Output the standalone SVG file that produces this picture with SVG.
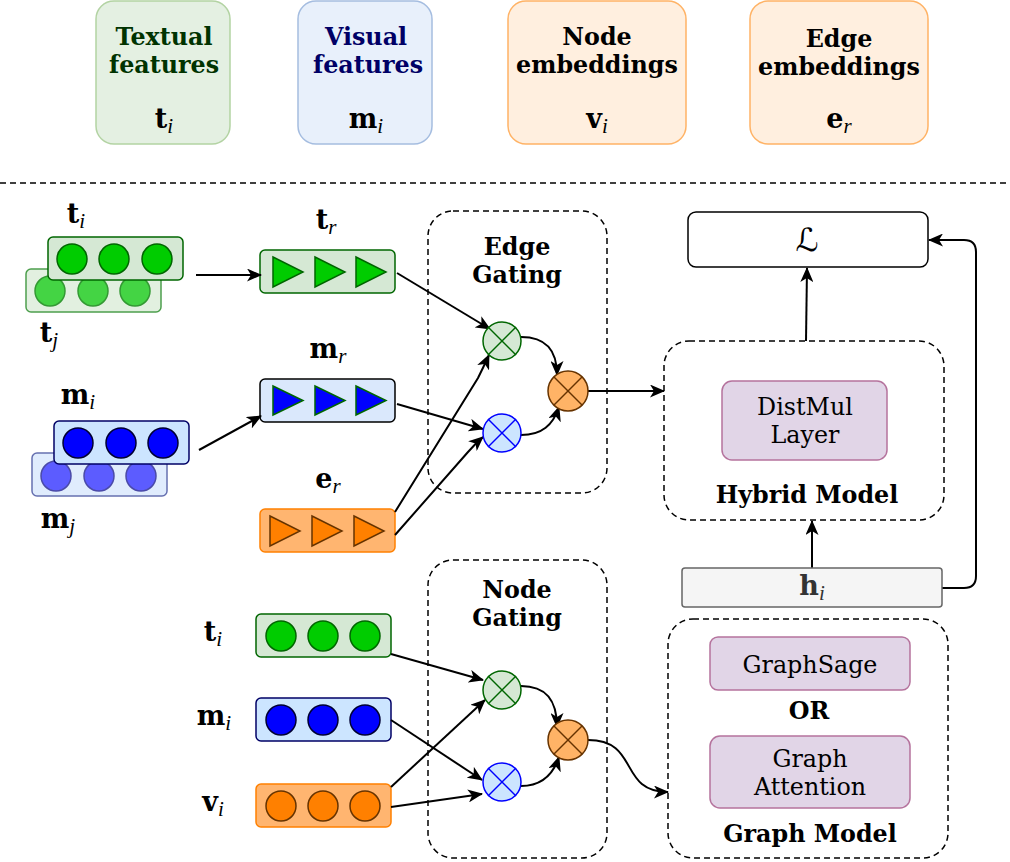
<svg xmlns="http://www.w3.org/2000/svg" width="1010" height="862" viewBox="0 0 1010 862">
<style>
.bt{font-family:"DejaVu Serif",serif;font-weight:bold;font-size:23.8px;text-anchor:middle}
.rt{font-family:"DejaVu Serif",serif;font-size:23.8px;text-anchor:middle;fill:#000}
.mt{font-family:"DejaVu Serif",serif;font-weight:bold;font-size:27px;text-anchor:middle}
.sub{font-family:"Liberation Serif",serif;font-style:italic;font-weight:normal;font-size:21px}
.ln{fill:none;stroke:#000;stroke-width:2}
.dash{fill:none;stroke:#000;stroke-width:1.5;stroke-dasharray:6 4}
.gbox{fill:#d5e8d4;stroke:#006600;stroke-width:1.5}
.gc{fill:#00cc00;stroke:#006600;stroke-width:1.5}
.gbox2{fill:#e2f0e0;stroke:#4d9f4d;stroke-width:1.5}
.gc2{fill:#44d444;stroke:#339933;stroke-width:1.5}
.bbox{fill:#cce5ff;stroke:#000066;stroke-width:1.5}
.bc{fill:#0000ff;stroke:#000033;stroke-width:1.5}
.bbox2{fill:#e0ecfd;stroke:#6670b0;stroke-width:1.5}
.bc2{fill:#5c5cff;stroke:#4a4aa8;stroke-width:1.5}
.obox{fill:#ffb570;stroke:#ff8000;stroke-width:1.5}
.oc{fill:#ff8000;stroke:#663300;stroke-width:1.5}
.pbox{fill:#e1d5e7;stroke:#b5739d;stroke-width:1.5}
</style>
<defs>
<marker id="ah" viewBox="0 0 15 13" refX="14" refY="6.5" markerWidth="15" markerHeight="13" markerUnits="userSpaceOnUse" orient="auto">
<path d="M0,0 L15,6.5 L0,13 L4,6.5 Z" fill="#000"/>
</marker>
<g id="xg"><line x1="-14" y1="-14" x2="14" y2="14"/><line x1="-14" y1="14" x2="14" y2="-14"/></g>
</defs>
<rect width="1010" height="862" fill="#fff"/>

<!-- legend -->
<g id="legend-textual">
<rect x="96" y="1" width="134" height="143" rx="18" fill="#e4f0e2" stroke="#b3d3a3" stroke-width="1.5"/>
<text class="bt" x="164" y="45" fill="#003300">Textual</text>
<text class="bt" x="164" y="73" fill="#003300">features</text>
<text class="mt" x="164" y="128" fill="#000">t<tspan class="sub" dy="5">i</tspan></text>
</g>
<g id="legend-visual">
<rect x="298" y="1" width="134" height="143" rx="18" fill="#e8f0fb" stroke="#a5bde0" stroke-width="1.5"/>
<text class="bt" x="366" y="45" fill="#000066">Visual</text>
<text class="bt" x="368" y="73" fill="#000066">features</text>
<text class="mt" x="366" y="128" fill="#000">m<tspan class="sub" dy="5">i</tspan></text>
</g>
<g id="legend-node">
<rect x="508" y="1" width="178" height="143" rx="18" fill="#ffefdf" stroke="#ffb366" stroke-width="1.5"/>
<text class="bt" x="597" y="45" fill="#000">Node</text>
<text class="bt" x="597" y="73" fill="#000">embeddings</text>
<text class="mt" x="597" y="128" fill="#000">v<tspan class="sub" dy="5">i</tspan></text>
</g>
<g id="legend-edge">
<rect x="750" y="1" width="178" height="143" rx="18" fill="#ffefdf" stroke="#ffb366" stroke-width="1.5"/>
<text class="bt" x="839" y="47" fill="#000">Edge</text>
<text class="bt" x="839" y="75" fill="#000">embeddings</text>
<text class="mt" x="839" y="128" fill="#000">e<tspan class="sub" dy="5">r</tspan></text>
</g>
<line x1="0" y1="183" x2="1010" y2="183" stroke="#000" stroke-width="1.5" stroke-dasharray="6 4"/>

<!-- gating groups -->
<g id="edge-gating-box">
<rect class="dash" x="428" y="211" width="179" height="282" rx="25"/>
<text class="bt" x="517" y="255" fill="#000">Edge</text>
<text class="bt" x="517" y="283" fill="#000">Gating</text>
</g>
<g id="node-gating-box">
<rect class="dash" x="428" y="560" width="179" height="298" rx="25"/>
<text class="bt" x="517" y="598" fill="#000">Node</text>
<text class="bt" x="517" y="626" fill="#000">Gating</text>
</g>

<!-- left inputs -->
<g id="tj">
<rect class="gbox2" x="26" y="269" width="135" height="43" rx="5"/>
<circle class="gc2" cx="50" cy="291" r="15"/><circle class="gc2" cx="93" cy="291" r="15"/><circle class="gc2" cx="135" cy="291" r="15"/>
<text class="mt" x="49" y="342" fill="#000">t<tspan class="sub" dy="5">j</tspan></text>
</g>
<g id="ti">
<rect class="gbox" x="48" y="237" width="135" height="43" rx="5"/>
<circle class="gc" cx="72" cy="259" r="15"/><circle class="gc" cx="114" cy="259" r="15"/><circle class="gc" cx="157" cy="259" r="15"/>
<text class="mt" x="76" y="223" fill="#000">t<tspan class="sub" dy="5">i</tspan></text>
</g>
<g id="mj">
<rect class="bbox2" x="32" y="453" width="135" height="43" rx="5"/>
<circle class="bc2" cx="56" cy="476" r="15"/><circle class="bc2" cx="99" cy="476" r="15"/><circle class="bc2" cx="141" cy="476" r="15"/>
<text class="mt" x="58" y="528" fill="#000">m<tspan class="sub" dy="5">j</tspan></text>
</g>
<g id="mi">
<rect class="bbox" x="54" y="421" width="135" height="43" rx="5"/>
<circle class="bc" cx="78" cy="443" r="15"/><circle class="bc" cx="121" cy="443" r="15"/><circle class="bc" cx="163" cy="443" r="15"/>
<text class="mt" x="78" y="404" fill="#000">m<tspan class="sub" dy="5">i</tspan></text>
</g>

<g id="tr">
<rect class="gbox" x="260" y="250" width="135" height="43" rx="5"/>
<path class="gc" d="M273,257 L303,272 L273,287 Z"/><path class="gc" d="M315,257 L345,272 L315,287 Z"/><path class="gc" d="M356,257 L386,272 L356,287 Z"/>
<text class="mt" x="326" y="229" fill="#000">t<tspan class="sub" dy="5">r</tspan></text>
</g>
<g id="mr">
<rect x="260" y="379" width="135" height="43" rx="5" fill="#dae8fc" stroke="#000" stroke-width="1.5"/>
<path d="M273,386 L303,400.5 L273,415 Z" fill="#0000ff" stroke="#006600" stroke-width="1.5"/><path d="M315,386 L345,400.5 L315,415 Z" fill="#0000ff" stroke="#006600" stroke-width="1.5"/><path d="M356,386 L386,400.5 L356,415 Z" fill="#0000ff" stroke="#006600" stroke-width="1.5"/>
<text class="mt" x="328" y="358" fill="#000">m<tspan class="sub" dy="5">r</tspan></text>
</g>
<g id="er">
<rect class="obox" x="260" y="509" width="135" height="43" rx="5"/>
<path class="oc" d="M270,516 L300,531 L270,546 Z"/><path class="oc" d="M312,516 L342,531 L312,546 Z"/><path class="oc" d="M354,516 L384,531 L354,546 Z"/>
<text class="mt" x="328" y="488" fill="#000">e<tspan class="sub" dy="5">r</tspan></text>
</g>

<!-- node gating inputs -->
<g id="ti-node">
<rect class="gbox" x="256" y="614" width="135" height="43" rx="5"/>
<circle class="gc" cx="281" cy="636" r="15"/><circle class="gc" cx="323" cy="636" r="15"/><circle class="gc" cx="365" cy="636" r="15"/>
<text class="mt" x="213" y="641" fill="#000">t<tspan class="sub" dy="5">i</tspan></text>
</g>
<g id="mi-node">
<rect class="bbox" x="256" y="698" width="135" height="43" rx="5"/>
<circle class="bc" cx="281" cy="720" r="15"/><circle class="bc" cx="323" cy="720" r="15"/><circle class="bc" cx="365" cy="720" r="15"/>
<text class="mt" x="214" y="725" fill="#000">m<tspan class="sub" dy="5">i</tspan></text>
</g>
<g id="vi-node">
<rect class="obox" x="256" y="784" width="135" height="43" rx="5"/>
<circle class="oc" cx="281" cy="806" r="15"/><circle class="oc" cx="323" cy="806" r="15"/><circle class="oc" cx="365" cy="806" r="15"/>
<text class="mt" x="213" y="811" fill="#000">v<tspan class="sub" dy="5">i</tspan></text>
</g>

<!-- connectors -->
<g id="connectors" class="ln">
<line x1="196" y1="275" x2="261" y2="275" marker-end="url(#ah)"/>
<line x1="199" y1="450" x2="261" y2="416" marker-end="url(#ah)"/>
<line x1="397" y1="273" x2="490" y2="329" marker-end="url(#ah)"/>
<path d="M395,512 L478,378 Q483,368 489,355" marker-end="url(#ah)"/>
<line x1="397" y1="404" x2="483" y2="429" marker-end="url(#ah)"/>
<path d="M395,535 L468,452 Q475,444 483,437" marker-end="url(#ah)"/>
<path d="M521,337 C546,337 557,350 557,375" marker-end="url(#ah)"/>
<path d="M521,435 C542,435 553,425 559,407" marker-end="url(#ah)"/>
<line x1="588" y1="391" x2="664" y2="391" marker-end="url(#ah)"/>
<line x1="391" y1="654" x2="483" y2="680" marker-end="url(#ah)"/>
<line x1="391" y1="787" x2="485" y2="700" marker-end="url(#ah)"/>
<line x1="391" y1="720" x2="482" y2="780" marker-end="url(#ah)"/>
<line x1="391" y1="807" x2="482" y2="794" marker-end="url(#ah)"/>
<path d="M521,686 C546,686 557,700 557,727" marker-end="url(#ah)"/>
<path d="M521,786 C542,786 553,775 559,757" marker-end="url(#ah)"/>
<path d="M588,740 C640,740 618,792 668,792" marker-end="url(#ah)"/>
<line x1="806" y1="341" x2="807" y2="268" marker-end="url(#ah)"/>
<line x1="812" y1="568" x2="812" y2="521" marker-end="url(#ah)"/>
<path d="M942,588 L964,588 Q976,588 976,576 L976,252 Q976,240 964,240 L929,240" marker-end="url(#ah)"/>
</g>

<!-- gate circles -->
<g id="edge-gate-text" stroke="#006600" stroke-width="1.5">
<circle cx="502" cy="341" r="19" fill="#d5e8d4"/><use href="#xg" x="502" y="341"/>
</g>
<g id="edge-gate-visual" stroke="#0000ff" stroke-width="1.5">
<circle cx="502" cy="433" r="19" fill="#cce5ff"/><use href="#xg" x="502" y="433"/>
</g>
<g id="edge-gate-merge" stroke="#663300" stroke-width="1.5">
<circle cx="568" cy="391" r="20" fill="#ffb366"/><use href="#xg" x="568" y="391"/>
</g>
<g id="node-gate-text" stroke="#006600" stroke-width="1.5">
<circle cx="502" cy="690" r="19" fill="#d5e8d4"/><use href="#xg" x="502" y="690"/>
</g>
<g id="node-gate-visual" stroke="#0000ff" stroke-width="1.5">
<circle cx="502" cy="782" r="19" fill="#cce5ff"/><use href="#xg" x="502" y="782"/>
</g>
<g id="node-gate-merge" stroke="#663300" stroke-width="1.5">
<circle cx="568" cy="740" r="20" fill="#ffb366"/><use href="#xg" x="568" y="740"/>
</g>

<!-- right side -->
<g id="loss">
<rect x="688" y="212" width="240" height="55" rx="8" fill="#fff" stroke="#000" stroke-width="1.5"/>
<text x="807" y="251" font-family="DejaVu Serif, DejaVu Sans, serif" font-style="italic" font-size="32" text-anchor="middle">ℒ</text>
</g>
<g id="hybrid-model">
<rect class="dash" x="664" y="341" width="280" height="179" rx="25"/>
<rect class="pbox" x="722" y="381" width="165" height="79" rx="10"/>
<text class="rt" x="805" y="415">DistMul</text>
<text class="rt" x="805" y="443">Layer</text>
<text class="bt" x="807" y="503" fill="#000">Hybrid Model</text>
</g>
<g id="hi">
<rect x="682" y="568" width="260" height="39" rx="3" fill="#f5f5f5" stroke="#666" stroke-width="1.5"/>
<text class="mt" x="812" y="595" fill="#333">h<tspan class="sub" dy="5">i</tspan></text>
</g>
<g id="graph-model">
<rect class="dash" x="668" y="619" width="280" height="239" rx="25"/>
<rect class="pbox" x="710" y="637" width="200" height="53" rx="8"/>
<text class="rt" x="810" y="673">GraphSage</text>
<text class="bt" x="809" y="719" fill="#000">OR</text>
<rect class="pbox" x="710" y="736" width="200" height="72" rx="10"/>
<text class="rt" x="810" y="767">Graph</text>
<text class="rt" x="810" y="795">Attention</text>
<text class="bt" x="810" y="842" fill="#000">Graph Model</text>
</g>
</svg>
